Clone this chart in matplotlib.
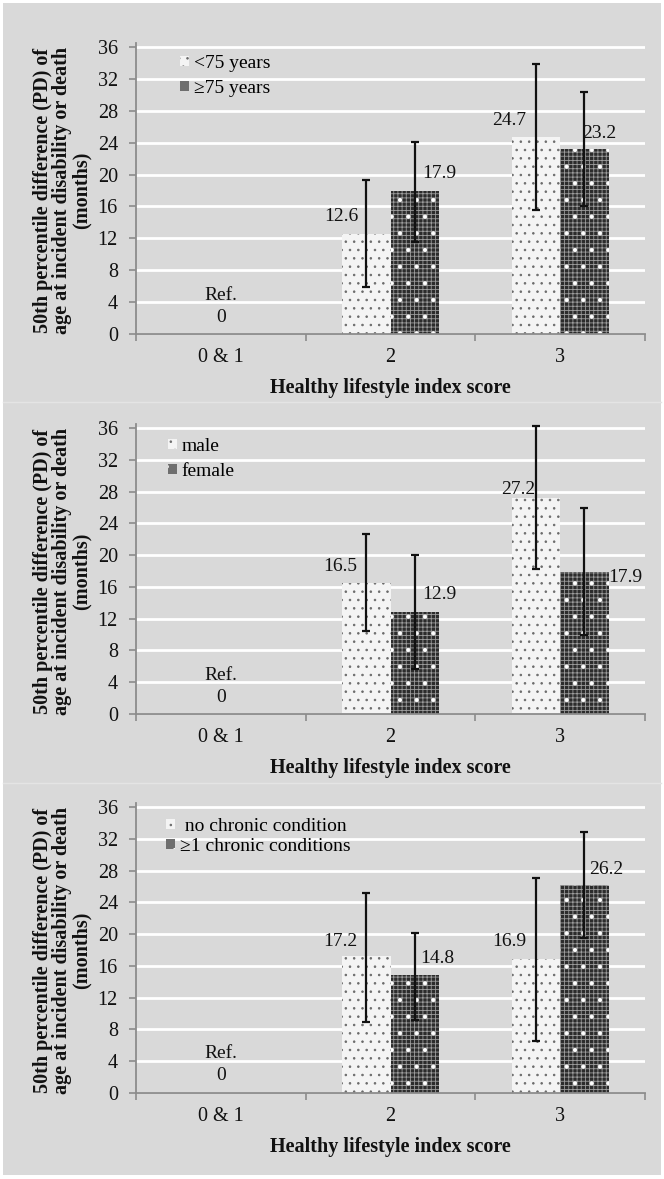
import numpy as np
import matplotlib
matplotlib.use('Agg')
import matplotlib.pyplot as plt
from matplotlib.patches import Patch, Rectangle

plt.rcParams['font.family'] = ['Liberation Serif', 'DejaVu Serif']
plt.rcParams['hatch.linewidth'] = 0.6

categories = ['0 & 1', '2', '3']

# panel 1: age groups
age_groups = ['<75 years', '\u226575 years']
age_young = [0, 12.6, 24.7]
age_young_lo = [0, 5.9, 15.5]
age_young_hi = [0, 19.3, 33.9]
age_old = [0, 17.9, 23.2]
age_old_lo = [0, 11.6, 16.0]
age_old_hi = [0, 24.1, 30.3]

# panel 2: sex
sex_groups = ['male', 'female']
male = [0, 16.5, 27.2]
male_lo = [0, 10.4, 18.3]
male_hi = [0, 22.7, 36.2]
female = [0, 12.9, 17.9]
female_lo = [0, 5.7, 10.0]
female_hi = [0, 20.0, 25.9]

# panel 3: chronic conditions
chronic_groups = [' no chronic condition', '\u22651 chronic conditions']
no_chronic = [0, 17.2, 16.9]
no_chronic_lo = [0, 9.0, 6.6]
no_chronic_hi = [0, 25.2, 27.1]
chronic = [0, 14.8, 26.2]
chronic_lo = [0, 9.2, 19.5]
chronic_hi = [0, 20.1, 32.8]

W, H = 664, 1179
GRAY = '#d9d9d9'
AXIS_GRAY = '#8c8c8c'
TXT = '#111111'

fig = plt.figure(figsize=(W / 100, H / 100), dpi=100)
fig.patch.set_facecolor('white')
fig.add_artist(Rectangle((3 / W, 1 - 1175 / H), 658 / W, 1172 / H,
                         transform=fig.transFigure, facecolor=GRAY,
                         edgecolor='none', zorder=-10))
for ysep in [402, 783]:
    fig.add_artist(plt.Line2D([3 / W, 661 / W], [1 - ysep / H, 1 - ysep / H],
                              transform=fig.transFigure, color='#e4e4e4',
                              lw=1.0, zorder=-9))

# light dotted bars
style1 = dict(facecolor='#f4f4f4', edgecolor='#6a6a6a', hatch='..', linewidth=0)
# dark checkered bars: fine grid underneath, sparse white dots on top
style2_base = dict(facecolor='#2c2c2c', edgecolor='#9c9c9c', hatch='++++', linewidth=0)
style2_dots = dict(facecolor='none', edgecolor='white', hatch='.', linewidth=0)

panels = [
    dict(groups=age_groups, s1=(age_young, age_young_lo, age_young_hi),
         s2=(age_old, age_old_lo, age_old_hi), y36=47, y0=334,
         leg=(180, 55), legsp=0.42,
         off1=[(-25, 17), (-27, 17)], off2=[(25, 18), (15, 16)]),
    dict(groups=sex_groups, s1=(male, male_lo, male_hi),
         s2=(female, female_lo, female_hi), y36=428, y0=714,
         leg=(168, 438), legsp=0.42,
         off1=[(-26, 16), (-18, 8)], off2=[(25, 17), (41, -6)]),
    dict(groups=chronic_groups, s1=(no_chronic, no_chronic_lo, no_chronic_hi),
         s2=(chronic, chronic_lo, chronic_hi), y36=807, y0=1093,
         leg=(166, 818), legsp=0.15,
         off1=[(-26, 15), (-27, 17)], off2=[(23, 17), (22, 15)]),
]

x = np.arange(1, len(categories) + 1)
bw = 0.285
top_pad = 4  # px of axis above the 36 line

for p in panels:
    ppu = (p['y0'] - p['y36']) / 36.0
    ax = fig.add_axes([136 / W, 1 - p['y0'] / H, 509 / W,
                       (p['y0'] - p['y36'] + top_pad) / H])
    ax.set_facecolor(GRAY)
    ax.set_xlim(0.5, 3.5)
    ax.set_ylim(0, 36 + top_pad / ppu)

    for k, (vals, lo, hi) in enumerate([p['s1'], p['s2']]):
        xs = x + (k - 0.5) * bw
        if k == 0:
            ax.bar(xs, vals, width=bw, zorder=2, **style1)
        else:
            ax.bar(xs, vals, width=bw, zorder=2, **style2_base)
            ax.bar(xs, vals, width=bw, zorder=2.1, **style2_dots)
        vals = np.array(vals)
        err = [vals[1:] - np.array(lo)[1:], np.array(hi)[1:] - vals[1:]]
        ax.errorbar(xs[1:], vals[1:], yerr=err, fmt='none', ecolor=TXT,
                    elinewidth=1.6, capsize=2.6, capthick=1.6, zorder=4,
                    clip_on=False)
        offs = p['off1'] if k == 0 else p['off2']
        for xi, v, (dx, dy) in zip(xs[1:], vals[1:], offs):
            ax.annotate(f'{v:.1f}', (xi, v), xytext=(dx, dy),
                        textcoords='offset pixels', ha='center', va='center',
                        fontsize=14, color=TXT, zorder=5)

    # reference category
    ax.annotate('0', (x[0], 0), xytext=(0, 17), textcoords='offset pixels',
                ha='center', va='center', fontsize=14, color=TXT)
    ax.annotate('Ref.', (x[0], 0), xytext=(0, 39), textcoords='offset pixels',
                ha='center', va='center', fontsize=14, color=TXT)

    ax.set_yticks(np.arange(0, 37, 4))
    ax.yaxis.grid(True, color='white', lw=2.0)
    ax.set_axisbelow(True)
    ax.tick_params(axis='y', direction='out', length=5, width=1.2,
                   color=AXIS_GRAY, pad=8, labelsize=14.5, labelcolor=TXT)

    ax.set_xticks(x)
    ax.set_xticklabels(categories)
    ax.set_xticks(np.arange(0.5, 3.6, 1.0), minor=True)
    ax.tick_params(axis='x', which='major', length=0, pad=10, labelsize=14.5,
                   labelcolor=TXT)
    ax.tick_params(axis='x', which='minor', direction='out', length=5,
                   width=1.2, color=AXIS_GRAY)

    for side in ['top', 'right']:
        ax.spines[side].set_visible(False)
    for side in ['left', 'bottom']:
        ax.spines[side].set_color(AXIS_GRAY)
        ax.spines[side].set_linewidth(1.3)

    ax.annotate('Healthy lifestyle index score', (0.5, 0), xycoords='axes fraction',
                xytext=(0, -54), textcoords='offset pixels', ha='center',
                va='center', fontsize=14.5, fontweight='bold', color=TXT)

    yc = 1 - (p['y0'] + p['y36']) / 2 / H
    fig.text(62 / W, yc, '50th percentile difference (PD) of\n'
             'age at incident disability or death\n(months)',
             rotation=90, ha='center', va='center', multialignment='center',
             fontsize=14.5, fontweight='bold', linespacing=0.95, color=TXT)

    handles = [Patch(**style1),
               Patch(facecolor='#6e6e6e', edgecolor='white', hatch='.', linewidth=0)]
    lx, ly = p['leg']
    ax.legend(handles, p['groups'], loc='upper left', frameon=False,
              bbox_to_anchor=(lx / W, 1 - ly / H), bbox_transform=fig.transFigure,
              borderpad=0, borderaxespad=0, handlelength=0.45, handleheight=0.45,
              handletextpad=0.25, labelspacing=p['legsp'], fontsize=14)

fig.savefig('out.png', dpi=100)
